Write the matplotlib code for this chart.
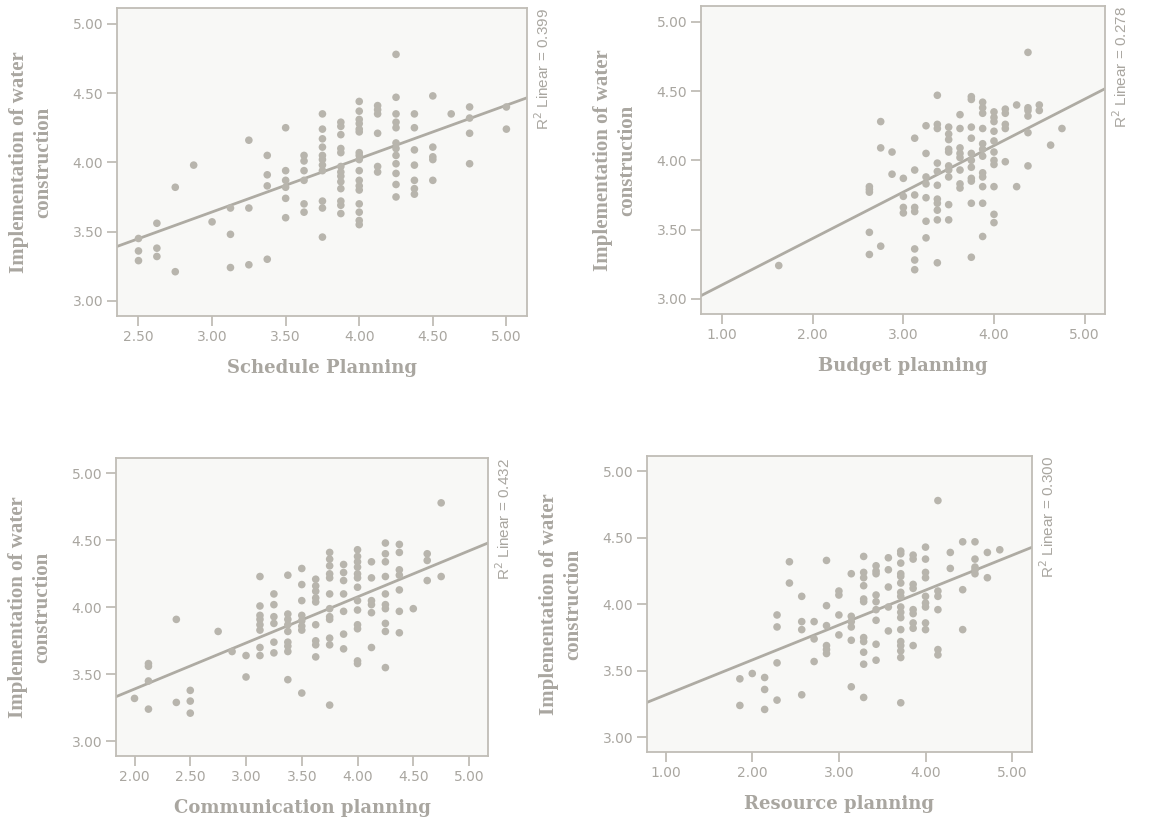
import numpy as np
import matplotlib
matplotlib.use("Agg")
import matplotlib.pyplot as plt

W, H = 1149, 823

y_label = "Implementation of water\nconstruction"

# scores, grouped by x value
schedule_pts = {
    2.500: [3.45, 3.36, 3.29],
    2.625: [3.56, 3.38, 3.32],
    2.750: [3.82, 3.21],
    2.875: [3.98],
    3.000: [3.57],
    3.125: [3.67, 3.48, 3.24],
    3.250: [4.16, 3.67, 3.26],
    3.375: [4.05, 3.91, 3.83, 3.30],
    3.500: [4.25, 3.94, 3.87, 3.82, 3.74, 3.60],
    3.625: [4.05, 4.01, 3.94, 3.87, 3.70, 3.64],
    3.750: [4.35, 4.24, 4.17, 4.11, 4.05, 4.02, 3.98, 3.94, 3.72, 3.67, 3.46],
    3.875: [4.29, 4.26, 4.20, 4.10, 4.07, 3.97, 3.93, 3.90, 3.86, 3.81, 3.72, 3.69, 3.63],
    4.000: [4.44, 4.37, 4.31, 4.28, 4.24, 4.22, 4.07, 4.05, 4.02, 3.94, 3.87, 3.83,
            3.80, 3.70, 3.64, 3.58, 3.55],
    4.125: [4.41, 4.38, 4.35, 4.21, 3.97, 3.93],
    4.250: [4.78, 4.47, 4.35, 4.29, 4.25, 4.14, 4.10, 4.05, 3.99, 3.92, 3.84, 3.75],
    4.375: [4.35, 4.25, 4.09, 3.98, 3.87, 3.81, 3.77],
    4.500: [4.48, 4.11, 4.04, 4.02, 3.87],
    4.625: [4.35],
    4.750: [4.40, 4.32, 4.21, 3.99],
    5.000: [4.40, 4.24],
}

budget_pts = {
    1.625: [3.24],
    2.625: [3.81, 3.79, 3.77, 3.48, 3.32],
    2.750: [4.28, 4.09, 3.38],
    2.875: [4.06, 3.90],
    3.000: [3.87, 3.74, 3.66, 3.62],
    3.125: [4.16, 3.93, 3.75, 3.66, 3.63, 3.36, 3.28, 3.21],
    3.250: [4.25, 4.05, 3.88, 3.83, 3.73, 3.56, 3.44],
    3.375: [4.47, 4.26, 4.23, 3.98, 3.92, 3.82, 3.72, 3.69, 3.64, 3.57, 3.26],
    3.500: [4.24, 4.19, 4.15, 4.08, 4.06, 3.96, 3.93, 3.88, 3.68, 3.57],
    3.625: [4.33, 4.23, 4.09, 4.05, 4.02, 3.93, 3.83, 3.80],
    3.750: [4.46, 4.44, 4.24, 4.16, 4.05, 4.00, 3.95, 3.87, 3.85, 3.69, 3.30],
    3.875: [4.42, 4.38, 4.34, 4.23, 4.12, 4.08, 4.03, 3.91, 3.88, 3.81, 3.69, 3.45],
    4.000: [4.35, 4.31, 4.28, 4.21, 4.14, 4.06, 4.00, 3.97, 3.81, 3.61, 3.55],
    4.125: [4.37, 4.34, 4.26, 4.23, 3.99],
    4.250: [4.40, 3.81],
    4.375: [4.78, 4.38, 4.36, 4.32, 4.20, 3.96],
    4.500: [4.40, 4.36],
    4.625: [4.11],
    4.750: [4.23],
}

communication_pts = {
    2.000: [3.32],
    2.125: [3.58, 3.56, 3.45, 3.24],
    2.375: [3.91, 3.29],
    2.500: [3.38, 3.30, 3.21],
    2.750: [3.82],
    2.875: [3.67],
    3.000: [3.64, 3.48],
    3.125: [4.23, 4.01, 3.94, 3.91, 3.87, 3.83, 3.70, 3.64],
    3.250: [4.10, 4.02, 3.93, 3.88, 3.74, 3.66],
    3.375: [4.24, 3.95, 3.91, 3.87, 3.82, 3.74, 3.71, 3.67, 3.46],
    3.500: [4.29, 4.17, 4.05, 3.94, 3.90, 3.86, 3.83, 3.36],
    3.625: [4.21, 4.16, 4.12, 4.07, 4.04, 3.87, 3.75, 3.72, 3.63],
    3.750: [4.41, 4.36, 4.31, 4.25, 4.22, 4.10, 3.99, 3.93, 3.91, 3.77, 3.72, 3.27],
    3.875: [4.32, 4.26, 4.20, 4.10, 3.97, 3.80, 3.69],
    4.000: [4.43, 4.38, 4.34, 4.30, 4.25, 4.22, 4.15, 4.05, 3.98, 3.87, 3.84, 3.60, 3.58],
    4.125: [4.34, 4.22, 4.05, 4.02, 3.96, 3.70],
    4.250: [4.48, 4.40, 4.34, 4.23, 4.10, 4.02, 3.99, 3.88, 3.82, 3.55],
    4.375: [4.47, 4.41, 4.28, 4.24, 4.13, 3.97, 3.81],
    4.500: [3.99],
    4.625: [4.40, 4.35, 4.20],
    4.750: [4.78, 4.23],
}

resource_pts = {
    1.857: [3.44, 3.24],
    2.000: [3.48],
    2.143: [3.45, 3.36, 3.21],
    2.286: [3.92, 3.83, 3.56, 3.28],
    2.429: [4.32, 4.16],
    2.571: [4.06, 3.87, 3.81, 3.32],
    2.714: [3.87, 3.74, 3.57],
    2.857: [4.33, 3.99, 3.84, 3.69, 3.66, 3.63],
    3.000: [4.10, 4.07, 3.92, 3.77],
    3.143: [4.23, 3.91, 3.87, 3.83, 3.73, 3.38],
    3.286: [4.36, 4.24, 4.20, 4.14, 4.04, 4.02, 3.75, 3.72, 3.64, 3.55, 3.30],
    3.429: [4.29, 4.25, 4.23, 4.07, 4.02, 3.96, 3.88, 3.70, 3.58],
    3.571: [4.35, 4.26, 4.13, 3.98, 3.80],
    3.714: [4.40, 4.38, 4.31, 4.23, 4.21, 4.16, 4.09, 4.06, 3.98, 3.94, 3.90, 3.81,
            3.72, 3.69, 3.65, 3.60, 3.26],
    3.857: [4.37, 4.34, 4.15, 4.12, 3.96, 3.93, 3.86, 3.82, 3.69],
    4.000: [4.43, 4.34, 4.24, 4.20, 4.06, 4.01, 3.98, 3.86, 3.81],
    4.143: [4.78, 4.10, 4.06, 3.96, 3.66, 3.62],
    4.286: [4.39, 4.27],
    4.429: [4.47, 4.11, 3.81],
    4.571: [4.47, 4.34, 4.28, 4.26, 4.23],
    4.714: [4.39, 4.20],
    4.857: [4.41],
}

x_labels = ["Schedule Planning", "Budget planning", "Communication planning", "Resource planning"]
r2_values = [0.399, 0.278, 0.432, 0.300]
# fit line (intercept, slope)
fit_lines = [(2.485, 0.3855), (2.765, 0.3354), (2.702, 0.344), (3.057, 0.2624)]
x_ticks = [[2.5, 3.0, 3.5, 4.0, 4.5, 5.0], [1, 2, 3, 4, 5],
           [2.0, 2.5, 3.0, 3.5, 4.0, 4.5, 5.0], [1, 2, 3, 4, 5]]
y_ticks = [3.0, 3.5, 4.0, 4.5, 5.0]
x_limits = [(2.354, 5.14), (0.767, 5.225), (1.834, 5.17), (0.785, 5.229)]
y_limits = (2.89, 5.115)

# frame boxes in pixels: left, right, top, bottom
boxes = [(117, 527, 8, 316), (701, 1105, 6, 314), (116, 488, 458, 756), (647, 1032, 456, 752)]

POINT = "#b8b5ad"
LINE = "#aeaba3"
FRAME = "#c0bdb6"
TEXT = "#a9a6a0"
FACE = "#f8f8f6"


def expand(pts):
    xs, ys = [], []
    for x, col in pts.items():
        xs += [x] * len(col)
        ys += col
    return np.array(xs), np.array(ys)


def draw_panel(fig, box, pts, xlab, r2, fit, xt, xlim):
    l, r, t, b = box
    ax = fig.add_axes([l / W, 1 - b / H, (r - l) / W, (b - t) / H])
    ax.set_facecolor(FACE)
    for s in ax.spines.values():
        s.set_color(FRAME)
        s.set_linewidth(1.3)

    xs, ys = expand(pts)
    ax.scatter(xs, ys, s=30, color=POINT, edgecolors="none", zorder=3)

    lx = np.array(xlim)
    ax.plot(lx, fit[0] + fit[1] * lx, color=LINE, lw=2.0, zorder=2)

    ax.set_xlim(*xlim)
    ax.set_ylim(*y_limits)
    ax.set_xticks(xt)
    ax.set_yticks(y_ticks)
    ax.xaxis.set_major_formatter(matplotlib.ticker.FormatStrFormatter("%.2f"))
    ax.yaxis.set_major_formatter(matplotlib.ticker.FormatStrFormatter("%.2f"))
    ax.tick_params(colors=FRAME, labelcolor=TEXT, length=7, width=1.3,
                   labelsize=10, pad=3)
    for lab in ax.get_xticklabels() + ax.get_yticklabels():
        lab.set_family("DejaVu Sans")

    ax.text(0.5, -(52 / (b - t)), xlab, transform=ax.transAxes, ha="center", va="center",
            family="DejaVu Serif", weight="bold", fontsize=13, color=TEXT)
    ax.text(-(86 / (r - l)), 0.5, y_label, transform=ax.transAxes, ha="center", va="center",
            rotation=90, family="Liberation Serif", weight="bold", fontsize=15, color=TEXT,
            linespacing=1.25)
    ax.text(1 + 16 / (r - l), 1.0, "R$^2$ Linear = %.3f" % r2, transform=ax.transAxes,
            ha="center", va="top", rotation=90, family="Liberation Sans", fontsize=11,
            color=TEXT)
    return ax


fig = plt.figure(figsize=(W / 100, H / 100), dpi=100)
panel_data = [schedule_pts, budget_pts, communication_pts, resource_pts]
for i in range(4):
    draw_panel(fig, boxes[i], panel_data[i], x_labels[i], r2_values[i], fit_lines[i],
               x_ticks[i], x_limits[i])

fig.savefig("out.png", dpi=100)
